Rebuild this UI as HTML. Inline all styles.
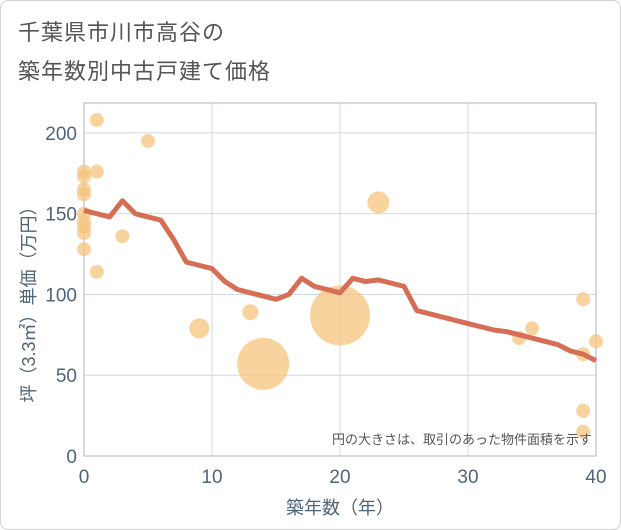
<!DOCTYPE html>
<html><head><meta charset="utf-8"><style>
body{margin:0;background:#fff;font-family:"Liberation Sans","Noto Sans CJK JP",sans-serif}
#card{position:absolute;left:0;top:0;width:619px;height:528px;border:1px solid #d0d0d0;border-radius:8px;background:#fff}
.t{position:absolute;left:18px;font-size:22px;color:#555;letter-spacing:1px}
</style></head><body>
<div id="card"></div>
<div class="t" style="top:15px">千葉県市川市高谷の</div>
<div class="t" style="top:54px">築年数別中古戸建て価格</div>
<svg id="c" width="621" height="530" style="position:absolute;left:0;top:0"></svg>
<script>
const years=[0,1,2,3,4,5,6,7,8,9,10,11,12,13,14,15,16,17,18,19,20,21,22,23,24,25,26,27,28,29,30,31,32,33,34,35,36,37,38,39,40];
const avgPrice=[152,150,148,158,150,148,146,134,120,118,116,108,103,101,99,97,100,110,105,103,101,110,108,109,107,105,90,88,86,84,82,80,78,77,75,73,71,69,65,63,59];
const bubX=[0,0,0,0,0,0,0,0,0,1,1,1,3,5,9,13,14,20,23,34,35,39,39,40,39,39];
const bubY=[176,173,165,162,150,145,142,138,128,208,176,114,136,195,79,89,57,87,157,73,79,97,63,71,28,15];
const bubR=[7,7,7,7,7,7,7,7,7,7,7,7,7,7,10,8,26,30,11,7,7,7,7,7,7,7];
const xTicks=[0,10,20,30,40];
const yTicks=[0,50,100,150,200];
const L=84,R=596,T=103,B=456;
const sx=v=>L+(v-0)/40*(R-L);
const sy=v=>B-v/218.5*(B-T);
const svg=document.getElementById('c');const NS='http://www.w3.org/2000/svg';
function mk(t,a,p){const e=document.createElementNS(NS,t);for(const k in a)e.setAttribute(k,a[k]);(p||svg).appendChild(e);return e;}
xTicks.forEach(v=>{const l=mk('line',{x1:sx(v),x2:sx(v),y1:T,y2:B,stroke:'#cdd8e4','stroke-width':1});


const t=mk('text',{x:sx(v),y:B+27,'text-anchor':'middle','font-size':19,fill:'#506478'});t.textContent=v;

});
yTicks.forEach(v=>{const l=mk('line',{x1:L,x2:R,y1:sy(v),y2:sy(v),stroke:'#cdd8e4','stroke-width':1});


const t=mk('text',{x:L-7,y:sy(v)+7,'text-anchor':'end','font-size':19,fill:'#506478'});t.textContent=v;

});
const fr=mk('rect',{x:L,y:T,width:R-L,height:B-T,fill:'none',stroke:'#a9b6c4','stroke-width':1});


bubX.forEach((x,i)=>{const c=mk('circle',{cx:sx(x),cy:sy(bubY[i]),r:bubR[i],fill:'#f5c47e','fill-opacity':0.75});

});
const pl=mk('polyline',{points:years.map((y,i)=>sx(y)+','+sy(avgPrice[i])).join(' '),fill:'none',stroke:'#d66e55','stroke-width':5,'stroke-linejoin':'round'});


const n=mk('text',{x:592,y:444,'text-anchor':'end','font-size':13,fill:'#555'});n.textContent='円の大きさは、取引のあった物件面積を示す';


const xt=mk('text',{x:340,y:514,'text-anchor':'middle','font-size':18,fill:'#506478'});xt.textContent='築年数（年）';


const yt=mk('text',{x:0,y:0,'text-anchor':'middle','font-size':18,fill:'#506478',transform:'translate(35,300) rotate(-90)'});yt.textContent='坪（3.3㎡）単価（万円）';


</script>
</body></html>
